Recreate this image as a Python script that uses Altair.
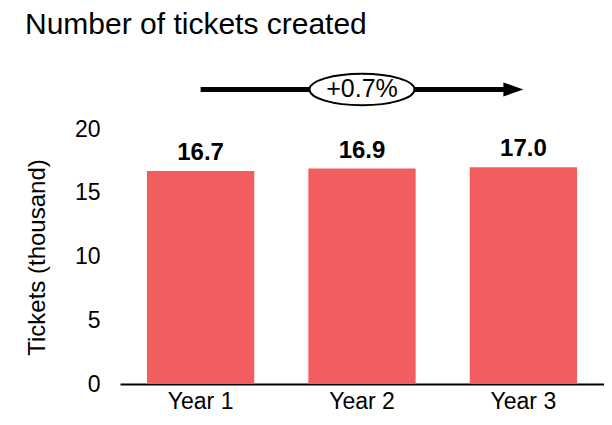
import altair as alt
import pandas as pd

years = ["Year 1", "Year 2", "Year 3"]
tickets = [16.7, 16.9, 17.0]

change_label = ["+0.7%"]
arrow_start = ["Year 1"]
arrow_end = ["Year 3"]
arrow_mid = ["Year 2"]
arrow_level = [23.1]

FONT = "Liberation Sans"
BAR_COLOR = "#F25E60"

bars_df = pd.DataFrame({"year": years, "tickets": tickets})
ann_df = pd.DataFrame({"start": arrow_start, "end": arrow_end, "mid": arrow_mid,
                       "level": arrow_level, "label": change_label})

x_scale = alt.Scale(domain=years, paddingInner=0.335, paddingOuter=0.167)
y_scale = alt.Scale(domain=[0, 20], nice=False)

x_axis = alt.Axis(title=None, labelAngle=0, labelFontSize=23, labelFont=FONT,
                  labelColor="black", labelPadding=6, ticks=False, tickSize=0,
                  domainColor="black", domainWidth=2)
y_axis = alt.Axis(title="Tickets (thousand)", values=[0, 5, 10, 15, 20], grid=False,
                  domain=False, ticks=False, tickSize=0, labelFontSize=23,
                  labelFont=FONT, labelColor="black", labelPadding=20,
                  titleFontSize=24, titleFont=FONT, titleFontWeight="normal",
                  titleColor="black", titleX=-83, titleY=128,
                  titleBaseline="middle", titleAngle=270)

base = alt.Chart(bars_df)

bars = base.mark_bar(color=BAR_COLOR).encode(
    x=alt.X("year:N", scale=x_scale, axis=x_axis, sort=years),
    y=alt.Y("tickets:Q", scale=y_scale, axis=y_axis),
)

values = base.mark_text(font=FONT, fontSize=24, fontWeight="bold", color="black",
                        baseline="alphabetic", dy=-11).encode(
    x=alt.X("year:N", sort=years),
    y="tickets:Q",
    text=alt.Text("tickets:Q", format=".1f"),
)

ann = alt.Chart(ann_df)

arrow_line = ann.mark_rule(color="black", strokeWidth=5, x2Offset=-16).encode(
    x="start:N", x2="end:N", y="level:Q"
)

arrow_head = ann.mark_point(shape="M -1 -0.7 L 1 0 L -1 0.7 Z", size=400, filled=True,
                            color="black", opacity=1, xOffset=-10).encode(
    x="end:N", y="level:Q"
)

ellipse = ann.mark_point(shape="M -1 0 A 1 0.3 0 1 0 1 0 A 1 0.3 0 1 0 -1 0 Z",
                         size=11025, filled=False, fill="white", stroke="black",
                         strokeWidth=2, opacity=1, fillOpacity=1).encode(
    x="mid:N", y="level:Q"
)

ann_text = ann.mark_text(font=FONT, fontSize=25, color="black", baseline="middle",
                         align="center").encode(
    x="mid:N", y="level:Q", text="label:N"
)

chart = alt.layer(bars, values, arrow_line, arrow_head, ellipse, ann_text).properties(
    width=484,
    height=255,
    title=alt.TitleParams("Number of tickets created", anchor="start", font=FONT,
                          fontSize=30, fontWeight="normal", color="black", dy=-26),
    autosize=alt.AutoSizeParams(type="none"),
    padding={"left": 112, "top": 121, "right": 0, "bottom": 33},
).configure_view(stroke=None).configure_axis(grid=False)

chart.save("out.html", embed_options={"renderer": "svg", "actions": False})
